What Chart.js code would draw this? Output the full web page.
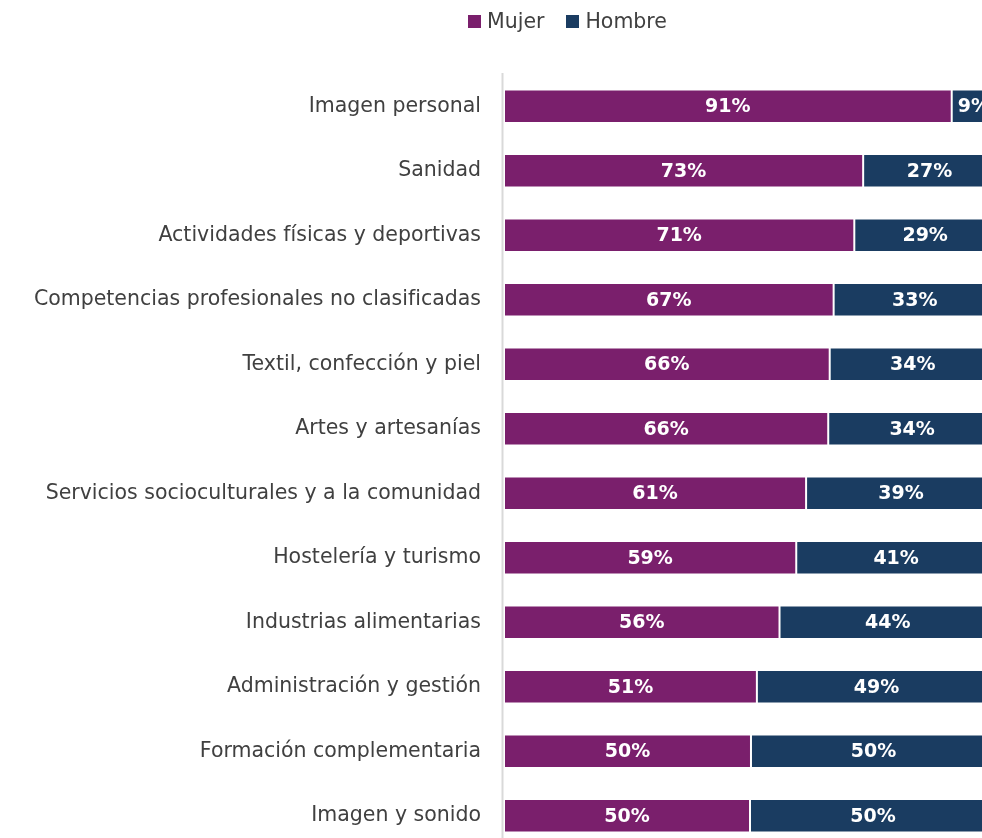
<!DOCTYPE html>
<html lang="es">
<head>
<meta charset="utf-8">
<title>Mujer / Hombre por familia profesional</title>
<script src="https://cdn.jsdelivr.net/npm/chart.js@4.4.1/dist/chart.umd.min.js"></script>
<style>
    html, body { margin: 0; padding: 0; overflow: hidden; background: #ffffff; }
    #wrap { position: absolute; left: 0; top: 0; width: 996px; height: 848px; }
    #legend {
        position: absolute; left: 468px; top: 9px;
        display: flex; align-items: center;
        font-family: "DejaVu Sans", sans-serif; font-size: 20.5px; color: #404040;
    }
    #legend .item { display: flex; align-items: center; margin-right: 22px; }
    #legend .box { width: 13px; height: 13px; margin-right: 6px; }
</style>
</head>
<body>
<div id="wrap">
    <canvas id="genero" width="996" height="848"></canvas>
    <div id="legend"></div>
</div>
<script>
const categorias = [
    'Imagen personal',
    'Sanidad',
    'Actividades físicas y deportivas',
    'Competencias profesionales no clasificadas',
    'Textil, confección y piel',
    'Artes y artesanías',
    'Servicios socioculturales y a la comunidad',
    'Hostelería y turismo',
    'Industrias alimentarias',
    'Administración y gestión',
    'Formación complementaria',
    'Imagen y sonido'
];
const mujer = [91.0, 73.0, 71.2, 67.0, 66.2, 65.9, 61.4, 59.4, 56.0, 51.4, 50.2, 50.0];
const hombre = [9.0, 27.0, 28.8, 33.0, 33.8, 34.1, 38.6, 40.6, 44.0, 48.6, 49.8, 50.0];

const canvas = document.getElementById('genero');
const legendDiv = document.getElementById('legend');
const fontFamily = '"DejaVu Sans", sans-serif';

// línea vertical del eje, a la izquierda de las barras
const axisLine = {
    id: 'axisLine',
    beforeDatasetsDraw(chart) {
        const { ctx, chartArea } = chart;
        ctx.save();
        ctx.strokeStyle = '#d9d9d9';
        ctx.lineWidth = 2;
        ctx.beginPath();
        ctx.moveTo(chartArea.left - 1.5, chartArea.top - 1);
        ctx.lineTo(chartArea.left - 1.5, chartArea.bottom);
        ctx.stroke();
        ctx.restore();
    }
};

// porcentajes en el centro de cada segmento
const barLabels = {
    id: 'barLabels',
    afterDatasetsDraw(chart) {
        const ctx = chart.ctx;
        ctx.save();
        ctx.fillStyle = '#ffffff';
        ctx.font = 'bold 19px ' + fontFamily;
        ctx.textAlign = 'center';
        ctx.textBaseline = 'middle';
        chart.data.datasets.forEach((ds, i) => {
            chart.getDatasetMeta(i).data.forEach((bar, j) => {
                const p = bar.getCenterPoint();
                ctx.fillText(Math.round(ds.data[j]) + '%', p.x, p.y + 1);
            });
        });
        ctx.restore();
    }
};

const chart = new Chart(canvas, {
    type: 'bar',
    data: {
        labels: categorias,
        datasets: [
            { label: 'Mujer', data: mujer, backgroundColor: '#7a1f6c' },
            { label: 'Hombre', data: hombre, backgroundColor: '#1a3c61' }
        ]
    },
    options: {
        indexAxis: 'y',
        responsive: false,
        animation: false,
        layout: { padding: { top: 74, left: 0, right: 0, bottom: 0 } },
        datasets: {
            bar: {
                categoryPercentage: 0.52,
                barPercentage: 1,
                borderWidth: 1,
                borderColor: 'rgba(255,255,255,0.35)',
                borderSkipped: false
            }
        },
        plugins: {
            legend: { display: false },
            tooltip: { enabled: false }
        },
        scales: {
            x: {
                stacked: true,
                min: 0,
                max: 100,
                display: false
            },
            y: {
                stacked: true,
                grid: { display: false, drawTicks: false },
                border: { display: false },
                ticks: {
                    padding: 23,
                    color: '#404040',
                    font: { family: fontFamily, size: 20.5 }
                },
                afterFit(scale) {
                    scale.width = 504;
                    scale.paddingTop = 0;
                    scale.paddingBottom = 0;
                }
            }
        }
    },
    plugins: [axisLine, barLabels]
});

function buildLegend() {
    chart.data.datasets.forEach(ds => {
        const item = document.createElement('div');
        item.className = 'item';
        const box = document.createElement('span');
        box.className = 'box';
        box.style.background = ds.backgroundColor;
        const text = document.createElement('span');
        text.textContent = ds.label;
        item.appendChild(box);
        item.appendChild(text);
        legendDiv.appendChild(item);
    });
}

buildLegend();
</script>
</body>
</html>
